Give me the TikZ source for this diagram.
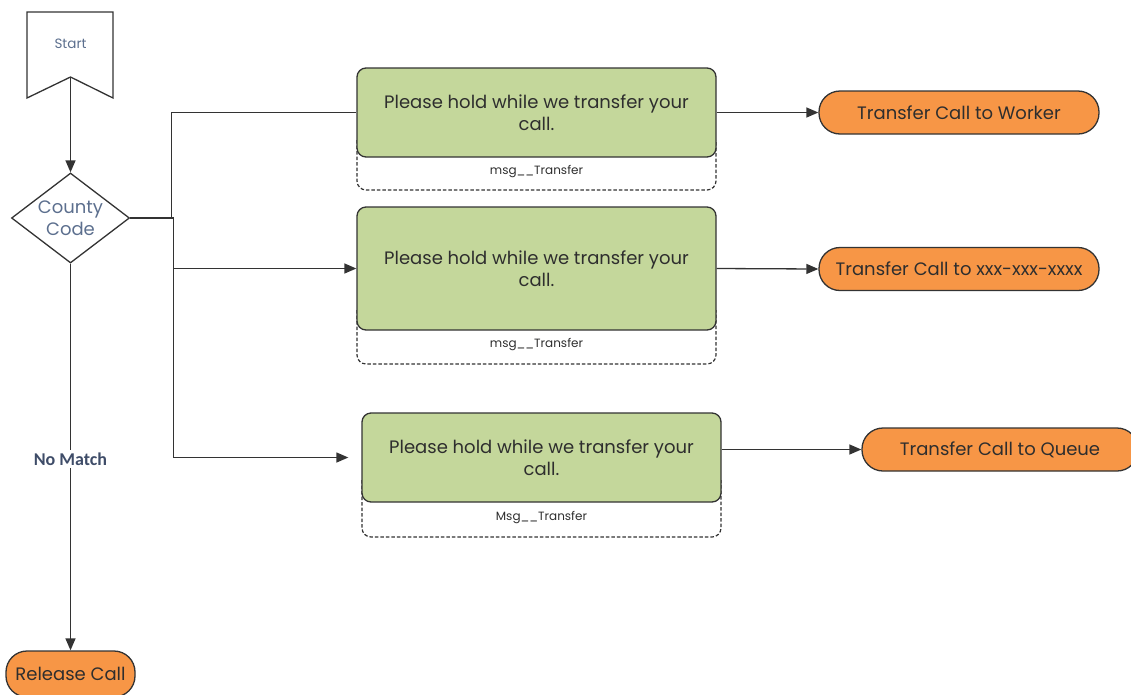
\documentclass[tikz,border=0pt]{standalone}
\usepackage{fontspec}
\setmainfont{Poppins}
\newfontfamily\labelfont{Carlito}
\usetikzlibrary{arrows.meta,shapes.geometric}
\definecolor{boxgreen}{HTML}{C4D79B}
\definecolor{termorange}{HTML}{F79646}
\definecolor{edgegray}{HTML}{333333}
\definecolor{txt}{HTML}{2E2E2E}
\definecolor{bluetxt}{HTML}{5C6F8E}
\definecolor{darkblue}{HTML}{3E4C68}
\tikzset{
  msgbox/.style={draw=edgegray, fill=boxgreen, line width=1.3pt, rounded corners=9pt,
    minimum width=359pt, minimum height=89pt, inner sep=0pt, align=center,
    text=txt, font=\fontsize{18}{22}\selectfont},
  dashbox/.style={draw=edgegray, dash pattern=on 3.5pt off 2pt, line width=1.2pt, rounded corners=9pt},
  msglabel/.style={text=txt, font=\fontsize{12}{14}\selectfont, inner sep=1pt},
  term/.style={draw=edgegray, fill=termorange, line width=1.3pt, rounded corners=21pt,
    minimum height=43pt, inner sep=0pt, text=txt, font=\fontsize{18}{20}\selectfont},
  conn/.style={draw=edgegray, line width=1.3pt},
  arr/.style={conn, -{Triangle[length=12pt,width=10pt]}},
}
\begin{document}
\begin{tikzpicture}[x=1pt,y=-1pt]
\useasboundingbox (0,0) rectangle (1131,694);
% Start banner
\draw[edgegray, line width=1.3pt] (27,12) -- (113,12) -- (113,98) -- (70.5,77) -- (27,98) -- cycle;
\node[text=bluetxt, font=\fontsize{13.5}{15}\selectfont] (start) at (70.5,44) {Start};
\coordinate (startnotch) at (70.5,77);
% Decision
\node[diamond, draw=edgegray, line width=1.3pt, minimum width=118pt, minimum height=90pt,
  inner sep=0pt] (dec) at (70.5,218) {};
\node[align=center, text=bluetxt, font=\fontsize{18}{22}\selectfont, inner sep=0pt] (dect) at (70.5,218) {County\\Code};
\draw[arr] (startnotch) -- (dec.north);
% message boxes
\draw[dashbox] (357,140) -- (357,190) -- (716,190) -- (716,140);
\node[msgbox, minimum height=89pt] (m1) at (536.5,112.5) {Please hold while we transfer your\\call.};
\node[msglabel] (l1) at (536.5,172) {msg\_\_Transfer};

\draw[dashbox] (357,310) -- (357,364) -- (716,364) -- (716,310);
\node[msgbox, minimum height=123pt] (m2) at (536.5,268.5) {Please hold while we transfer your\\call.};
\node[msglabel] (l2) at (536.5,345) {msg\_\_Transfer};

\draw[dashbox] (362,480) -- (362,537) -- (721,537) -- (721,480);
\node[msgbox, minimum height=89pt] (m3) at (541.5,457.5) {Please hold while we transfer your\\call.};
\node[msglabel] (l3) at (541.5,518) {Msg\_\_Transfer};
% terminators
\node[term, minimum width=280pt] (t1) at (959,112.5) {Transfer Call to Worker};
\node[term, minimum width=280pt] (t2) at (959,269) {Transfer Call to xxx-xxx-xxxx};
\node[term, minimum width=276pt] (t3) at (1000,449.5) {Transfer Call to Queue};
\node[term, minimum width=129pt, minimum height=46pt] (rel) at (70.5,674) {Release Call};
% connectors
\coordinate (j1) at (171.5,218);
\coordinate (j2) at (173.5,218);
\draw[conn, line width=2.2pt] (dec.east) -- (j2);
\draw[conn] (j1) |- (m1.west);
\draw[arr] (j2) |- (m2.west);
\draw[arr, shorten >=13pt] (j2) |- (m3.west);
\draw[arr] (m1.east) -- (t1.west);
\draw[arr] (m2.east) -- (t2.west);
\draw[arr] (m3.east |- t3.west) -- (t3.west);
\draw[arr] (dec.south) -- node[fill=white, text=darkblue, font=\labelfont\bfseries\fontsize{18}{20}\selectfont, inner sep=3pt, pos=0.505] (nm) {No Match} (rel.north);
\end{tikzpicture}
\end{document}
